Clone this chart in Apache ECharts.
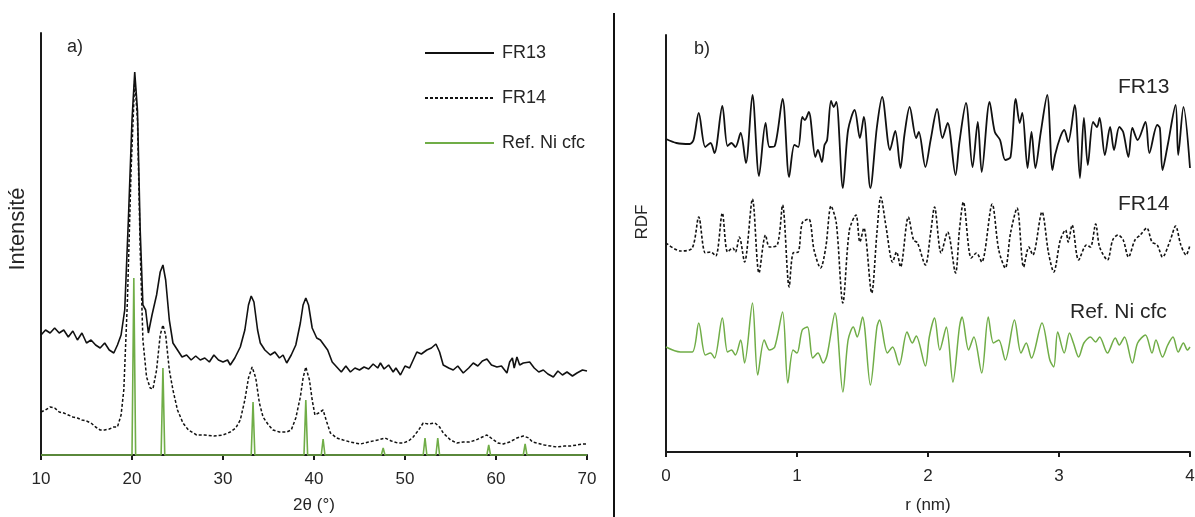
<!DOCTYPE html>
<html><head><meta charset="utf-8">
<script src="https://cdn.jsdelivr.net/npm/echarts@6/dist/echarts.min.js"></script>
<style>html,body{margin:0;padding:0;background:#fff}#c{width:1195px;height:517px}</style>
</head><body><div id="c"></div>
<script>
// ---------- a) XRD patterns (2θ in degrees, intensity in arbitrary units) ----------
const fr13Theta = [10.0,10.5,11.0,11.5,12.0,12.5,13.0,13.5,14.0,14.5,15.0,15.5,16.0,16.5,17.0,17.5,18.0,18.4,18.8,19.2,19.6,20.0,20.3,20.6,20.9,21.2,21.5,21.8,22.2,22.7,23.1,23.4,23.7,24.1,24.5,25.0,25.5,26.0,26.5,27.0,27.5,28.0,28.5,29.0,29.5,30.0,30.5,30.8,31.3,31.9,32.4,32.8,33.1,33.4,33.8,34.1,34.6,35.2,35.7,36.2,36.6,37.0,37.5,38.0,38.5,38.8,39.1,39.4,39.8,40.3,40.7,41.1,41.5,42.0,42.5,43.0,43.5,44.0,44.5,45.0,45.5,46.0,46.5,47.0,47.3,47.7,48.2,48.7,49.0,49.5,50.0,50.5,50.9,51.3,51.8,52.4,52.9,53.4,53.8,54.2,54.8,55.3,55.8,56.4,57.0,57.5,58.0,58.5,59.0,59.5,60.1,60.6,61.2,61.5,61.8,62.0,62.3,62.6,63.0,63.7,64.2,64.7,65.2,65.7,66.3,66.8,67.3,67.8,68.4,68.9,69.5,70.0];
const fr13Int = [120,125,122,127,122,125,118,124,115,122,112,115,110,107,112,105,102,110,120,145,235,335,383,345,225,150,145,122,140,160,183,190,175,135,112,105,98,100,95,99,95,97,93,100,95,93,95,90,97,108,125,150,159,153,125,112,105,100,103,97,100,92,100,110,132,150,157,150,127,117,115,110,105,93,88,83,89,83,87,85,88,86,91,87,92,86,90,83,87,80,89,87,95,103,101,105,107,111,103,90,87,85,89,82,87,92,89,94,96,90,88,89,82,93,97,87,98,90,92,93,87,83,85,81,78,84,80,83,79,82,85,84];

const fr14Theta = [10.0,10.5,11.0,11.5,12.0,12.5,13.0,13.5,14.0,14.5,15.0,15.5,16.0,16.5,17.0,17.5,18.0,18.4,18.8,19.1,19.5,19.9,20.3,20.6,20.9,21.2,21.6,22.0,22.3,22.7,23.1,23.4,23.7,24.1,24.5,25.0,25.6,26.2,27.1,28.0,29.0,30.0,30.8,31.4,31.9,32.4,32.8,33.2,33.6,34.0,34.4,35.0,35.5,36.2,37.0,37.5,38.0,38.5,38.8,39.1,39.5,39.8,40.1,40.5,41.0,41.4,41.8,42.5,43.2,44.0,45.1,46.0,47.0,47.8,48.5,49.2,49.8,50.4,50.9,51.5,52.0,52.6,53.3,53.8,54.2,55.0,55.7,56.4,57.1,57.8,58.5,59.0,59.6,60.2,60.8,61.5,62.3,63.0,63.6,64.0,64.5,65.3,66.0,66.7,67.5,68.2,68.9,69.5,70.0];
const fr14Int = [43,45,48,47,43,42,40,38,37,35,34,32,28,25,25,26,28,28,40,65,155,285,375,335,205,115,78,67,66,85,120,130,120,85,65,45,32,25,20,20,19,20,23,27,35,55,77,88,77,52,38,30,25,23,23,25,37,58,77,88,75,55,40,42,45,33,22,17,15,13,11,13,15,17,14,12,12,14,18,25,32,31,32,28,22,15,12,13,13,15,18,20,16,12,11,13,17,19,17,13,12,10,9,8,9,9,10,11,11];

// Reference Ni cfc diffraction lines: positions (2θ) and relative heights
const refPeakTheta = [20.2,23.4,33.3,39.1,41.0,47.6,52.2,53.6,59.2,63.2];
const refPeakInt   = [177,87,53,55,16,7,17,17,10,11];

// ---------- b) RDF curves (r in nm, arbitrary units) ----------
const rdfFr13R = [0.00,0.08,0.18,0.21,0.25,0.30,0.34,0.37,0.43,0.47,0.50,0.53,0.57,0.61,0.66,0.71,0.76,0.79,0.83,0.89,0.94,0.98,1.01,1.04,1.06,1.09,1.14,1.16,1.19,1.21,1.23,1.26,1.28,1.30,1.35,1.39,1.44,1.48,1.51,1.56,1.61,1.65,1.71,1.75,1.79,1.82,1.86,1.91,1.93,1.98,2.02,2.07,2.11,2.15,2.21,2.24,2.29,2.34,2.38,2.41,2.47,2.51,2.55,2.59,2.63,2.67,2.70,2.72,2.76,2.79,2.82,2.86,2.91,2.95,2.97,3.01,3.04,3.07,3.12,3.16,3.19,3.22,3.26,3.29,3.31,3.35,3.39,3.42,3.46,3.49,3.53,3.56,3.60,3.66,3.69,3.75,3.77,3.79,3.83,3.89,3.91,3.95,4.00];
const rdfFr13 = [313,309,308,312,339,305,309,299,346,306,309,305,319,289,357,276,329,305,306,353,275,307,305,335,332,340,295,302,290,307,312,351,345,350,264,322,342,314,335,264,325,355,302,321,284,317,345,314,320,285,312,343,314,329,277,310,349,285,330,280,350,320,312,292,295,353,329,339,284,320,284,319,357,282,297,315,322,310,347,274,334,287,330,325,334,297,325,302,325,320,295,324,312,330,299,327,324,282,307,347,297,345,284];

const rdfFr14R = [0.00,0.11,0.20,0.25,0.30,0.34,0.38,0.43,0.47,0.51,0.53,0.56,0.60,0.66,0.71,0.76,0.79,0.85,0.89,0.94,0.97,1.01,1.04,1.09,1.13,1.18,1.22,1.26,1.30,1.35,1.40,1.45,1.48,1.51,1.57,1.61,1.64,1.68,1.73,1.76,1.79,1.85,1.89,1.92,1.98,2.02,2.05,2.10,2.15,2.21,2.24,2.27,2.33,2.37,2.41,2.49,2.54,2.59,2.63,2.68,2.73,2.77,2.80,2.87,2.92,2.96,3.01,3.05,3.07,3.10,3.15,3.21,3.24,3.28,3.31,3.37,3.41,3.45,3.49,3.53,3.58,3.62,3.67,3.71,3.75,3.79,3.85,3.89,3.93,3.97,4.00];
const rdfFr14 = [209,201,204,235,199,200,196,239,200,204,200,215,190,253,179,217,205,207,247,165,199,200,229,233,202,184,205,246,229,149,222,237,210,224,159,219,255,225,190,200,185,235,212,209,187,219,245,199,220,179,222,250,194,199,190,248,202,184,219,244,185,205,197,240,199,180,212,222,210,227,192,207,205,228,205,192,212,217,212,195,212,217,224,210,207,195,212,226,207,197,207];

const rdfRefR = [0.00,0.11,0.20,0.25,0.30,0.34,0.37,0.43,0.47,0.50,0.53,0.57,0.60,0.66,0.70,0.75,0.79,0.83,0.89,0.93,0.97,1.00,1.04,1.08,1.12,1.16,1.20,1.23,1.29,1.35,1.39,1.43,1.46,1.50,1.56,1.61,1.63,1.69,1.73,1.78,1.84,1.88,1.91,1.98,2.01,2.05,2.09,2.14,2.19,2.24,2.26,2.31,2.35,2.41,2.46,2.50,2.54,2.59,2.66,2.71,2.75,2.79,2.87,2.93,2.96,2.99,3.04,3.08,3.11,3.15,3.19,3.24,3.28,3.31,3.37,3.43,3.46,3.50,3.56,3.60,3.66,3.71,3.74,3.79,3.83,3.87,3.91,3.95,3.98,4.00];
const rdfRef = [105,100,100,129,97,99,94,134,100,102,97,112,89,149,77,112,102,105,140,69,102,99,122,125,94,99,89,97,139,60,112,125,115,135,67,125,132,99,105,87,120,109,116,86,115,134,102,125,70,125,135,102,115,79,135,109,112,92,132,99,109,94,129,92,85,120,99,119,109,95,109,115,110,115,99,114,107,115,89,109,117,99,112,95,107,115,100,109,102,105];

const xrdTicks = [10,20,30,40,50,60,70];
const rdfTicks = [0,1,2,3,4];

// ---------- build ----------
const zip = (xs, ys) => xs.map((x, i) => [x, ys[i]]);
const STICK_HALF = 0.2; // drawing width of reference lines (style)
const refStick = [[xrdTicks[0], 0]];
refPeakTheta.forEach((t, i) => {
  refStick.push([t - STICK_HALF, 0], [t, refPeakInt[i]], [t + STICK_HALF, 0]);
});
refStick.push([xrdTicks[xrdTicks.length - 1], 0]);

const FONT = "'Liberation Sans', Arial, sans-serif";
const TXT = '#262626';
const GREEN = '#70AD47';
const BLACK = '#111';

function xAxisCfg(grid, ticks, name, gap) {
  return {
    type: 'value', gridIndex: grid,
    min: ticks[0], max: ticks[ticks.length - 1], interval: ticks[1] - ticks[0],
    axisLine: { show: true, onZero: false, lineStyle: { color: '#1a1a1a', width: 2 } },
    axisTick: { show: true, length: 5, lineStyle: { color: '#1a1a1a', width: 2 } },
    axisLabel: { margin: 16, fontSize: 17, color: TXT, fontFamily: FONT },
    splitLine: { show: false },
    name: name, nameLocation: 'middle', nameGap: gap,
    nameTextStyle: { fontSize: 17, color: TXT, fontFamily: FONT }
  };
}
function yAxisCfg(grid, max) {
  return {
    type: 'value', gridIndex: grid, min: 0, max: max,
    axisLine: { show: true, onZero: false, lineStyle: { color: '#1a1a1a', width: 2 } },
    axisTick: { show: false }, axisLabel: { show: false }, splitLine: { show: false }
  };
}

const chart = echarts.init(document.getElementById('c'), null, { renderer: 'canvas' });
chart.setOption({
  animation: false,
  backgroundColor: '#fff',
  grid: [
    { left: 41, top: 33, width: 546, height: 422, outerBoundsMode: 'none', containLabel: false },
    { left: 666, top: 35, width: 524, height: 417, outerBoundsMode: 'none', containLabel: false }
  ],
  xAxis: [ xAxisCfg(0, xrdTicks, '2θ (°)', 42), xAxisCfg(1, rdfTicks, 'r (nm)', 45) ],
  yAxis: [ yAxisCfg(0, 422), yAxisCfg(1, 417) ],
  legend: {
    data: ['FR13', 'FR14', 'Ref. Ni cfc'],
    orient: 'vertical', left: 419, top: 39,
    itemWidth: 69, itemHeight: 14, itemGap: 27,
    itemStyle: { opacity: 0 },
    textStyle: { fontSize: 18, color: TXT, fontFamily: FONT, padding: [0, 0, 0, 3] },
    selectedMode: false
  },
  series: [
    { name: 'FR13', type: 'line', xAxisIndex: 0, yAxisIndex: 0, data: zip(fr13Theta, fr13Int),
      symbol: 'none', lineStyle: { color: BLACK, width: 1.6 }, itemStyle: { color: '#444' } },
    { name: 'FR14', type: 'line', xAxisIndex: 0, yAxisIndex: 0, data: zip(fr14Theta, fr14Int),
      symbol: 'none', lineStyle: { color: BLACK, width: 1.5, type: [3, 2] }, itemStyle: { color: '#444' } },
    { name: 'Ref. Ni cfc', type: 'line', xAxisIndex: 0, yAxisIndex: 0, data: refStick, clip: false,
      symbol: 'none', lineStyle: { color: GREEN, width: 1.6 }, itemStyle: { color: GREEN } },
    { name: 'RDF FR13', type: 'line', xAxisIndex: 1, yAxisIndex: 1, data: zip(rdfFr13R, rdfFr13),
      symbol: 'none', smooth: 0.3, lineStyle: { color: BLACK, width: 1.8 } },
    { name: 'RDF FR14', type: 'line', xAxisIndex: 1, yAxisIndex: 1, data: zip(rdfFr14R, rdfFr14),
      symbol: 'none', smooth: 0.3, lineStyle: { color: BLACK, width: 1.6, type: [3, 2] } },
    { name: 'RDF Ref. Ni cfc', type: 'line', xAxisIndex: 1, yAxisIndex: 1, data: zip(rdfRefR, rdfRef),
      symbol: 'none', smooth: 0.3, lineStyle: { color: GREEN, width: 1.5 } }
  ],
  graphic: [
    { type: 'line', shape: { x1: 614, y1: 13, x2: 614, y2: 517 }, style: { stroke: '#111', lineWidth: 2 } },
    { type: 'text', left: 67, top: 38, style: { text: 'a)', font: '18px ' + FONT, fill: TXT } },
    { type: 'text', left: 694, top: 40, style: { text: 'b)', font: '18px ' + FONT, fill: TXT } },
    { type: 'text', x: 18, y: 229, rotation: Math.PI / 2,
      style: { text: 'Intensité', font: '22px ' + FONT, fill: TXT, align: 'center', verticalAlign: 'middle' } },
    { type: 'text', x: 642, y: 222, rotation: Math.PI / 2,
      style: { text: 'RDF', font: '17px ' + FONT, fill: TXT, align: 'center', verticalAlign: 'middle' } },
    { type: 'text', x: 1118, y: 87, style: { text: 'FR13', font: '21px ' + FONT, fill: TXT, verticalAlign: 'middle' } },
    { type: 'text', x: 1118, y: 204, style: { text: 'FR14', font: '21px ' + FONT, fill: TXT, verticalAlign: 'middle' } },
    { type: 'text', x: 1070, y: 312, style: { text: 'Ref. Ni cfc', font: '21px ' + FONT, fill: TXT, verticalAlign: 'middle' } }
  ]
});
</script>
</body></html>
